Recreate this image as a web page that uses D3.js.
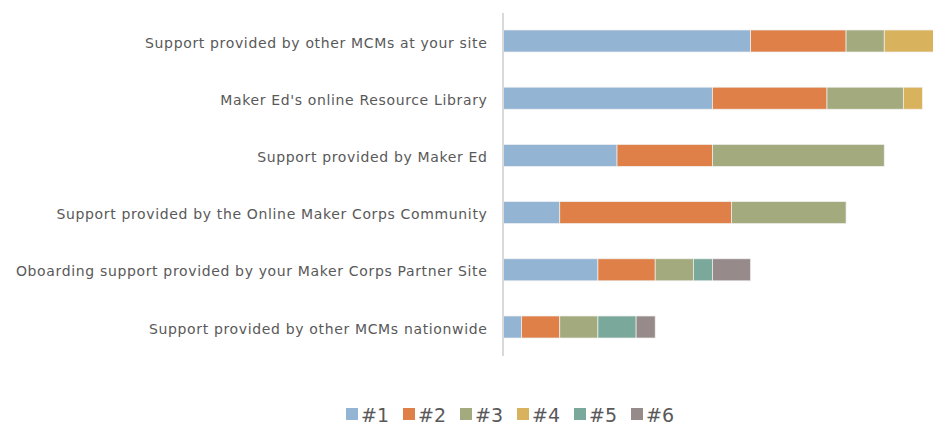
<!DOCTYPE html>
<html>
<head>
<meta charset="utf-8">
<script src="https://cdn.jsdelivr.net/npm/d3@7"></script>
<style>
  body { margin: 0; background: #fff; }
  svg { display: block; font-family: "DejaVu Sans", sans-serif; }
</style>
</head>
<body>
<svg id="chart" width="933" height="426"></svg>
<script>
const categories = [
  "Support provided by other MCMs at your site",
  "Maker Ed's online Resource Library",
  "Support provided by Maker Ed",
  "Support provided by the Online Maker Corps Community",
  "Oboarding support provided by your Maker Corps Partner Site",
  "Support provided by other MCMs nationwide"
];
const seriesNames = ["#1", "#2", "#3", "#4", "#5", "#6"];
const rank1 = [13, 11, 6, 3, 5, 1];
const rank2 = [5, 6, 5, 9, 3, 2];
const rank3 = [2, 4, 9, 6, 2, 2];
const rank4 = [3, 1, 0, 0, 0, 0];
const rank5 = [0, 0, 0, 0, 1, 2];
const rank6 = [0, 0, 0, 0, 2, 1];
const colors = ["#94b4d3", "#de8047", "#a3aa7e", "#d9b25e", "#7aa89b", "#968b8a"];

const rows = categories.map((c, i) => ({
  category: c,
  "#1": rank1[i], "#2": rank2[i], "#3": rank3[i],
  "#4": rank4[i], "#5": rank5[i], "#6": rank6[i]
}));

const svg = d3.select("#chart");

const x = d3.scaleLinear().domain([0, 23]).range([502.5, 941.5]);
const y = d3.scaleBand()
  .domain(categories)
  .range([12.4, 355.6])
  .paddingInner(0.615)
  .paddingOuter(0.3075);
const color = d3.scaleOrdinal(seriesNames, colors);

const stacked = d3.stack().keys(seriesNames)(rows);

svg.append("g")
  .selectAll("g")
  .data(stacked)
  .join("g")
  .attr("fill", (d) => color(d.key))
  .selectAll("rect")
  .data((d) => d.filter((p) => p[1] - p[0] > 0))
  .join("rect")
  .attr("x", (d) => x(d[0]))
  .attr("y", (d) => y(d.data.category))
  .attr("width", (d) => x(d[1]) - x(d[0]))
  .attr("height", y.bandwidth())
  .attr("stroke", "#f2f2f2")
  .attr("stroke-width", 0.7);

// category axis
const yAxis = svg.append("g")
  .attr("transform", "translate(" + x(0) + ",0)")
  .call(d3.axisLeft(y).tickSize(0).tickPadding(15));
yAxis.select(".domain").attr("stroke", "#d9d9d9").attr("stroke-width", 2);
yAxis.selectAll("text")
  .attr("fill", "#595959")
  .attr("font-size", "14px")
  .attr("letter-spacing", "0.65px")
  .attr("dy", "0.47em")
  .attr("font-family", "DejaVu Sans, sans-serif");

// legend
const legend = svg.append("g")
  .selectAll("g")
  .data(seriesNames)
  .join("g")
  .attr("transform", (d, i) => "translate(" + (346 + i * 57) + ",408)");
legend.append("rect")
  .attr("width", 12)
  .attr("height", 12)
  .attr("fill", (d) => color(d));
legend.append("text")
  .attr("x", 15)
  .attr("y", 14)
  .attr("fill", "#595959")
  .attr("font-size", "19px")
  .text((d) => d);
</script>
</body>
</html>
